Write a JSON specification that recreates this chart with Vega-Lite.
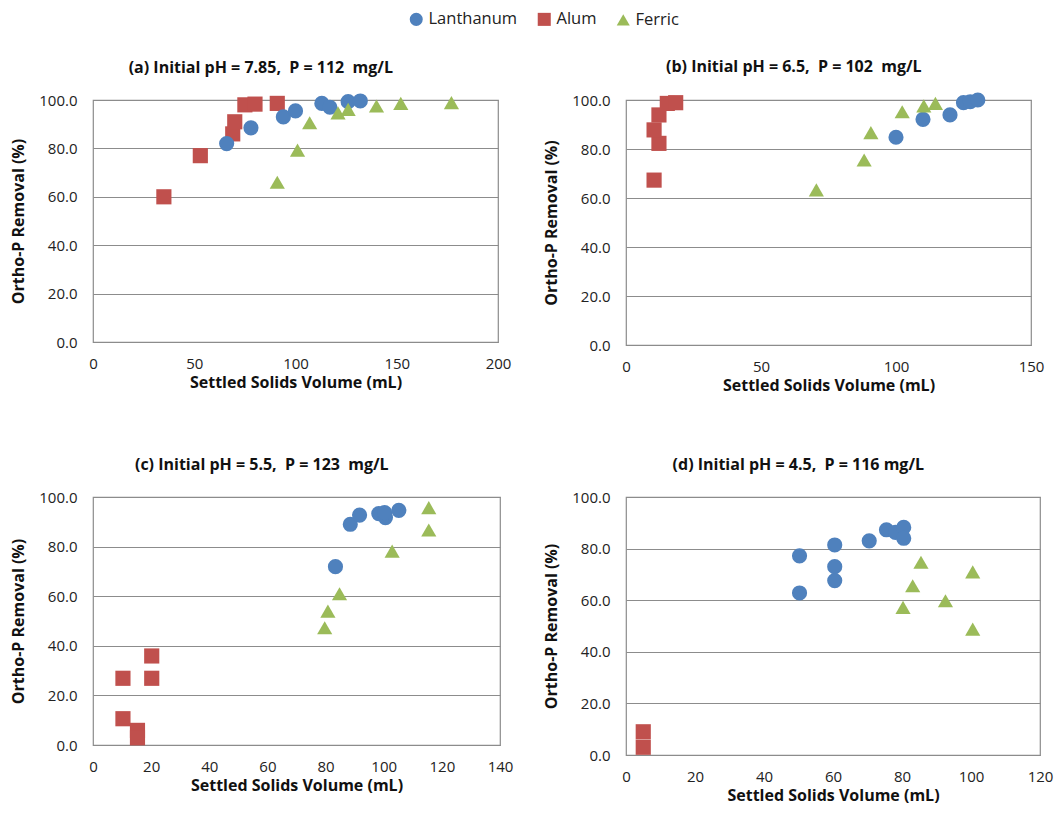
{
  "$schema": "https://vega.github.io/schema/vega-lite/v6.json",
  "background": "white",
  "padding": {"left": 10, "top": 11, "right": 6, "bottom": 5},
  "datasets": {
    "pts": [
      {"panel": "a", "material": "Alum", "volume": 35, "removal": 60},
      {"panel": "a", "material": "Alum", "volume": 53, "removal": 77},
      {"panel": "a", "material": "Alum", "volume": 69, "removal": 86},
      {"panel": "a", "material": "Alum", "volume": 70, "removal": 91},
      {"panel": "a", "material": "Alum", "volume": 75, "removal": 98},
      {"panel": "a", "material": "Alum", "volume": 80, "removal": 98.3},
      {"panel": "a", "material": "Alum", "volume": 91, "removal": 98.6},
      {"panel": "a", "material": "Lanthanum", "volume": 66, "removal": 82},
      {"panel": "a", "material": "Lanthanum", "volume": 78, "removal": 88.5},
      {"panel": "a", "material": "Lanthanum", "volume": 94, "removal": 93},
      {"panel": "a", "material": "Lanthanum", "volume": 100, "removal": 95.5},
      {"panel": "a", "material": "Lanthanum", "volume": 113, "removal": 98.6},
      {"panel": "a", "material": "Lanthanum", "volume": 117, "removal": 97},
      {"panel": "a", "material": "Lanthanum", "volume": 126, "removal": 99.3},
      {"panel": "a", "material": "Lanthanum", "volume": 132, "removal": 99.6},
      {"panel": "a", "material": "Ferric", "volume": 91, "removal": 66},
      {"panel": "a", "material": "Ferric", "volume": 101, "removal": 79.3},
      {"panel": "a", "material": "Ferric", "volume": 107, "removal": 90.6},
      {"panel": "a", "material": "Ferric", "volume": 121, "removal": 94.7},
      {"panel": "a", "material": "Ferric", "volume": 126, "removal": 96.1},
      {"panel": "a", "material": "Ferric", "volume": 140, "removal": 97.5},
      {"panel": "a", "material": "Ferric", "volume": 152, "removal": 98.6},
      {"panel": "a", "material": "Ferric", "volume": 177, "removal": 98.9},
      {"panel": "b", "material": "Alum", "volume": 10.4, "removal": 67.3},
      {"panel": "b", "material": "Alum", "volume": 12.2, "removal": 82.3},
      {"panel": "b", "material": "Alum", "volume": 10.4, "removal": 87.8},
      {"panel": "b", "material": "Alum", "volume": 12.2, "removal": 93.9},
      {"panel": "b", "material": "Alum", "volume": 15.3, "removal": 98.6},
      {"panel": "b", "material": "Alum", "volume": 18.4, "removal": 98.9},
      {"panel": "b", "material": "Lanthanum", "volume": 100, "removal": 84.8},
      {"panel": "b", "material": "Lanthanum", "volume": 110, "removal": 92.1},
      {"panel": "b", "material": "Lanthanum", "volume": 120, "removal": 93.9},
      {"panel": "b", "material": "Lanthanum", "volume": 125, "removal": 98.9},
      {"panel": "b", "material": "Lanthanum", "volume": 127.5, "removal": 99.3},
      {"panel": "b", "material": "Lanthanum", "volume": 130.3, "removal": 100},
      {"panel": "b", "material": "Ferric", "volume": 70.5, "removal": 63.3},
      {"panel": "b", "material": "Ferric", "volume": 88.2, "removal": 75.5},
      {"panel": "b", "material": "Ferric", "volume": 90.7, "removal": 86.7},
      {"panel": "b", "material": "Ferric", "volume": 102.3, "removal": 95.2},
      {"panel": "b", "material": "Ferric", "volume": 110.3, "removal": 97.6},
      {"panel": "b", "material": "Ferric", "volume": 114.6, "removal": 98.6},
      {"panel": "c", "material": "Alum", "volume": 10.3, "removal": 26.9},
      {"panel": "c", "material": "Alum", "volume": 20.2, "removal": 35.9},
      {"panel": "c", "material": "Alum", "volume": 20.2, "removal": 26.9},
      {"panel": "c", "material": "Alum", "volume": 10.3, "removal": 10.6},
      {"panel": "c", "material": "Alum", "volume": 15.3, "removal": 5.9},
      {"panel": "c", "material": "Alum", "volume": 15.3, "removal": 2.9},
      {"panel": "c", "material": "Lanthanum", "volume": 83.4, "removal": 71.9},
      {"panel": "c", "material": "Lanthanum", "volume": 88.5, "removal": 89},
      {"panel": "c", "material": "Lanthanum", "volume": 91.7, "removal": 92.7},
      {"panel": "c", "material": "Lanthanum", "volume": 98.3, "removal": 93.3},
      {"panel": "c", "material": "Lanthanum", "volume": 100.6, "removal": 91.7},
      {"panel": "c", "material": "Lanthanum", "volume": 100.3, "removal": 93.7},
      {"panel": "c", "material": "Lanthanum", "volume": 105.2, "removal": 94.6},
      {"panel": "c", "material": "Ferric", "volume": 79.7, "removal": 47.3},
      {"panel": "c", "material": "Ferric", "volume": 80.8, "removal": 54},
      {"panel": "c", "material": "Ferric", "volume": 84.8, "removal": 61},
      {"panel": "c", "material": "Ferric", "volume": 102.9, "removal": 78.2},
      {"panel": "c", "material": "Ferric", "volume": 115.5, "removal": 86.7},
      {"panel": "c", "material": "Ferric", "volume": 115.5, "removal": 95.7},
      {"panel": "d", "material": "Alum", "volume": 5, "removal": 9},
      {"panel": "d", "material": "Alum", "volume": 5, "removal": 3},
      {"panel": "d", "material": "Lanthanum", "volume": 50.3, "removal": 77.2},
      {"panel": "d", "material": "Lanthanum", "volume": 50.3, "removal": 62.8},
      {"panel": "d", "material": "Lanthanum", "volume": 60.5, "removal": 81.4},
      {"panel": "d", "material": "Lanthanum", "volume": 60.5, "removal": 73},
      {"panel": "d", "material": "Lanthanum", "volume": 60.5, "removal": 67.6},
      {"panel": "d", "material": "Lanthanum", "volume": 70.5, "removal": 83},
      {"panel": "d", "material": "Lanthanum", "volume": 75.5, "removal": 87.3},
      {"panel": "d", "material": "Lanthanum", "volume": 78.1, "removal": 86.3},
      {"panel": "d", "material": "Lanthanum", "volume": 80.5, "removal": 88.2},
      {"panel": "d", "material": "Lanthanum", "volume": 80.5, "removal": 84},
      {"panel": "d", "material": "Ferric", "volume": 85.5, "removal": 74.7},
      {"panel": "d", "material": "Ferric", "volume": 83.1, "removal": 65.6},
      {"panel": "d", "material": "Ferric", "volume": 80.3, "removal": 57.2},
      {"panel": "d", "material": "Ferric", "volume": 92.6, "removal": 59.8},
      {"panel": "d", "material": "Ferric", "volume": 100.5, "removal": 71},
      {"panel": "d", "material": "Ferric", "volume": 100.5, "removal": 48.8}
    ]
  },
  "columns": 2,
  "spacing": {"column": 29, "row": 62},
  "concat": [
    {
      "title": "(a) Initial pH = 7.85,\u00a0 P = 112\u00a0 mg/L",
      "width": 405, "height": 242,
      "data": {"name": "pts"},
      "transform": [{"filter": "datum.panel === 'a'"}],
      "mark": {"type": "point", "filled": true, "opacity": 1, "size": 230},
      "encoding": {
        "x": {"field": "volume", "type": "quantitative", "scale": {"domain": [0, 200], "nice": false}, "axis": {"values": [0, 50, 100, 150, 200]}, "title": "Settled Solids Volume (mL)"},
        "y": {"field": "removal", "type": "quantitative", "scale": {"domain": [0, 100], "nice": false}, "axis": {"values": [0, 20, 40, 60, 80, 100], "format": ".1f"}, "title": "Ortho-P Removal (%)"},
        "color": {"field": "material", "type": "nominal", "scale": {"domain": ["Lanthanum", "Alum", "Ferric"], "range": ["#4F81BD", "#C0504D", "#9BBB59"]}, "title": null},
        "shape": {"field": "material", "type": "nominal", "scale": {"domain": ["Lanthanum", "Alum", "Ferric"], "range": ["circle", "square", "triangle-up"]}, "title": null}
      }
    },
    {
      "title": "(b) Initial pH = 6.5,\u00a0 P = 102\u00a0 mg/L",
      "width": 405, "height": 245,
      "data": {"name": "pts"},
      "transform": [{"filter": "datum.panel === 'b'"}],
      "mark": {"type": "point", "filled": true, "opacity": 1, "size": 230},
      "encoding": {
        "x": {"field": "volume", "type": "quantitative", "scale": {"domain": [0, 150], "nice": false}, "axis": {"values": [0, 50, 100, 150]}, "title": "Settled Solids Volume (mL)"},
        "y": {"field": "removal", "type": "quantitative", "scale": {"domain": [0, 100], "nice": false}, "axis": {"values": [0, 20, 40, 60, 80, 100], "format": ".1f"}, "title": "Ortho-P Removal (%)"},
        "color": {"field": "material", "type": "nominal", "scale": {"domain": ["Lanthanum", "Alum", "Ferric"], "range": ["#4F81BD", "#C0504D", "#9BBB59"]}, "title": null},
        "shape": {"field": "material", "type": "nominal", "scale": {"domain": ["Lanthanum", "Alum", "Ferric"], "range": ["circle", "square", "triangle-up"]}, "title": null}
      }
    },
    {
      "title": "(c) Initial pH = 5.5,\u00a0 P = 123\u00a0 mg/L",
      "width": 407, "height": 248,
      "data": {"name": "pts"},
      "transform": [{"filter": "datum.panel === 'c'"}],
      "mark": {"type": "point", "filled": true, "opacity": 1, "size": 230},
      "encoding": {
        "x": {"field": "volume", "type": "quantitative", "scale": {"domain": [0, 140], "nice": false}, "axis": {"values": [0, 20, 40, 60, 80, 100, 120, 140]}, "title": "Settled Solids Volume (mL)"},
        "y": {"field": "removal", "type": "quantitative", "scale": {"domain": [0, 100], "nice": false}, "axis": {"values": [0, 20, 40, 60, 80, 100], "format": ".1f"}, "title": "Ortho-P Removal (%)"},
        "color": {"field": "material", "type": "nominal", "scale": {"domain": ["Lanthanum", "Alum", "Ferric"], "range": ["#4F81BD", "#C0504D", "#9BBB59"]}, "title": null},
        "shape": {"field": "material", "type": "nominal", "scale": {"domain": ["Lanthanum", "Alum", "Ferric"], "range": ["circle", "square", "triangle-up"]}, "title": null}
      }
    },
    {
      "title": "(d) Initial pH = 4.5,\u00a0 P = 116 mg/L",
      "width": 414, "height": 258,
      "data": {"name": "pts"},
      "transform": [{"filter": "datum.panel === 'd'"}],
      "mark": {"type": "point", "filled": true, "opacity": 1, "size": 230},
      "encoding": {
        "x": {"field": "volume", "type": "quantitative", "scale": {"domain": [0, 120], "nice": false}, "axis": {"values": [0, 20, 40, 60, 80, 100, 120]}, "title": "Settled Solids Volume (mL)"},
        "y": {"field": "removal", "type": "quantitative", "scale": {"domain": [0, 100], "nice": false}, "axis": {"values": [0, 20, 40, 60, 80, 100], "format": ".1f"}, "title": "Ortho-P Removal (%)"},
        "color": {"field": "material", "type": "nominal", "scale": {"domain": ["Lanthanum", "Alum", "Ferric"], "range": ["#4F81BD", "#C0504D", "#9BBB59"]}, "title": null},
        "shape": {"field": "material", "type": "nominal", "scale": {"domain": ["Lanthanum", "Alum", "Ferric"], "range": ["circle", "square", "triangle-up"]}, "title": null}
      }
    }
  ],
  "resolve": {"scale": {"x": "independent", "y": "independent"}, "axis": {"x": "independent", "y": "independent"}},
  "config": {
    "font": "Open Sans",
    "view": {"stroke": "#8c8c8c", "strokeWidth": 1.2},
    "axis": {
      "grid": false, "domain": false, "ticks": false,
      "labelFont": "Open Sans", "labelFontSize": 15, "labelColor": "#222",
      "titleFont": "Open Sans", "titleFontSize": 16, "titleFontWeight": "bold", "titleColor": "#111"
    },
    "axisX": {"labelPadding": 14, "titlePadding": 3, "labelFlush": false},
    "axisY": {"grid": true, "gridColor": "#8c8c8c", "gridWidth": 1.2, "labelPadding": 16, "titlePadding": 12},
    "title": {"font": "Open Sans", "fontSize": 16, "fontWeight": "bold", "color": "#111", "offset": 17, "anchor": "middle", "frame": "bounds"},
    "legend": {"orient": "none", "direction": "horizontal", "legendX": 315, "legendY": -89, "labelFont": "Open Sans", "labelFontSize": 16.5, "labelColor": "#222", "symbolSize": 170, "columnPadding": 16, "symbolOpacity": 1}
  }
}
